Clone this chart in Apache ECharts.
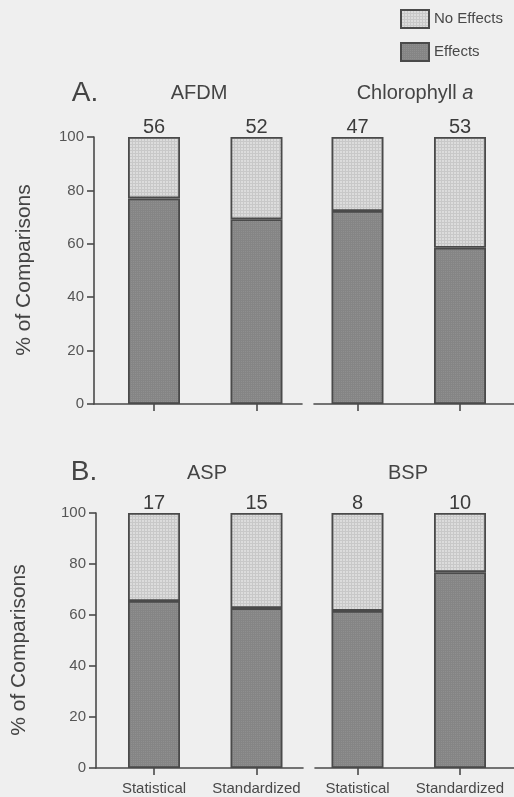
<!DOCTYPE html>
<html>
<head>
<meta charset="utf-8">
<style>
  html, body { margin: 0; padding: 0; background: #efefef; }
  #chart { width: 514px; height: 797px; }
</style>
<script src="https://cdn.jsdelivr.net/npm/echarts@6/dist/echarts.min.js"></script>
</head>
<body>
<div id="chart"></div>
<script>
// Comparison methods (x categories within each sub-panel)
const methods = ['Statistical', 'Standardized'];

// Panel A: biomass measures
const titleAFDM = 'AFDM';
const effectsAFDM = [77.0, 69.2];   // % of comparisons with effects
const countsAFDM = [56, 52];        // number of comparisons
const effectsChl = [72.3, 58.5];
const countsChl = [47, 53];

// Panel B: production measures
const titleASP = 'ASP';
const effectsASP = [65.5, 62.7];
const countsASP = [17, 15];
const titleBSP = 'BSP';
const effectsBSP = [61.6, 76.8];
const countsBSP = [8, 10];

// ---- styling helpers ----
const FONT = '"Liberation Sans", Arial, Helvetica, sans-serif';
const INK = '#4a4a4a';
const TEXT = '#484848';

function makePattern(base, fleck, step) {
  const c = document.createElement('canvas');
  c.width = step; c.height = step;
  const g = c.getContext('2d');
  g.fillStyle = base;
  g.fillRect(0, 0, step, step);
  g.fillStyle = fleck;
  g.fillRect(0, 0, step, 1);
  g.fillRect(0, 0, 1, step);
  return { image: c, repeat: 'repeat' };
}
const fillEffects = makePattern('#8f8f8f', '#858585', 2);
const fillNoEffects = makePattern('#dcdcdc', '#c8c8c8', 3);

// Layout of the four sub-plots (pixels)
const PX_PER_UNIT = 102.5;
const panels = [
  { left: 94, right: 302, top: 137, bottom: 404, center0: 154, yAxis: true, labels: false },
  { left: 314, right: 514, top: 137, bottom: 404, center0: 357.5, yAxis: false, labels: false },
  { left: 96, right: 303, top: 513, bottom: 768, center0: 154, yAxis: true, labels: true },
  { left: 315, right: 514, top: 513, bottom: 768, center0: 357.5, yAxis: false, labels: true }
];
const panelData = [
  { effects: effectsAFDM, counts: countsAFDM },
  { effects: effectsChl, counts: countsChl },
  { effects: effectsASP, counts: countsASP },
  { effects: effectsBSP, counts: countsBSP }
];

const grids = [], xAxes = [], yAxes = [], series = [];
panels.forEach((p, i) => {
  grids.push({ left: p.left, top: p.top, width: p.right - p.left, height: p.bottom - p.top });
  xAxes.push({
    gridIndex: i, type: 'value',
    min: (p.left - p.center0) / PX_PER_UNIT,
    max: (p.right - p.center0) / PX_PER_UNIT,
    splitLine: { show: false },
    axisLine: { show: true, onZero: false, lineStyle: { color: INK, width: 1.6 } },
    axisTick: { show: true, customValues: [0, 1], length: 7, lineStyle: { color: INK, width: 1.6 } },
    axisLabel: {
      show: p.labels, customValues: [0, 1], margin: 13,
      formatter: v => methods[Math.round(v)],
      fontFamily: FONT, fontSize: 15, color: TEXT
    }
  });
  yAxes.push({
    gridIndex: i, type: 'value', min: 0, max: 100, interval: 20,
    show: p.yAxis,
    splitLine: { show: false },
    axisLine: { show: true, onZero: false, lineStyle: { color: INK, width: 1.6 } },
    axisTick: { show: true, inside: false, length: 7, lineStyle: { color: INK, width: 1.6 } },
    axisLabel: { margin: 10, fontFamily: FONT, fontSize: 15, color: '#555' }
  });
  const d = panelData[i];
  // value first, position second, so the stack runs along the y (value) axis
  series.push({
    name: 'Effects', type: 'bar', stack: 's' + i,
    xAxisIndex: i, yAxisIndex: i, barWidth: 52,
    encode: { x: 1, y: 0 },
    itemStyle: { color: fillEffects, borderColor: INK, borderWidth: 1.8 },
    data: d.effects.map((v, k) => [v, k]),
    silent: true
  });
  series.push({
    name: 'No Effects', type: 'bar', stack: 's' + i,
    xAxisIndex: i, yAxisIndex: i, barWidth: 52,
    encode: { x: 1, y: 0 },
    itemStyle: { color: fillNoEffects, borderColor: INK, borderWidth: 1.8 },
    data: d.effects.map((v, k) => [100 - v, k]),
    label: {
      show: true, position: 'top', distance: 0,
      formatter: prm => String(d.counts[prm.dataIndex]),
      fontFamily: FONT, fontSize: 20, color: '#3c3c3c'
    },
    silent: true
  });
});

function txt(x, y, text, size) {
  return {
    type: 'text', x: x, y: y,
    style: {
      text: text, fontFamily: FONT, fontSize: size, fill: '#444',
      align: 'center', verticalAlign: 'middle'
    }
  };
}

const graphics = [
  txt(85, 93, 'A.', 28),
  txt(199, 93, titleAFDM, 20),
  {
    type: 'text', x: 415, y: 93,
    style: {
      text: '{n|Chlorophyll }{i|a}', align: 'center', verticalAlign: 'middle',
      rich: {
        n: { fontFamily: FONT, fontSize: 20, fill: '#444' },
        i: { fontFamily: FONT, fontSize: 20, fontStyle: 'italic', fill: '#444' }
      }
    }
  },
  txt(84, 472, 'B.', 28),
  txt(207, 473, titleASP, 20),
  txt(408, 473, titleBSP, 20),
  Object.assign(txt(24, 270, '% of Comparisons', 21), { rotation: Math.PI / 2 }),
  Object.assign(txt(19, 650, '% of Comparisons', 21), { rotation: Math.PI / 2 })
];

const chart = echarts.init(document.getElementById('chart'), null, { renderer: 'canvas' });
chart.setOption({
  backgroundColor: '#efefef',
  animation: false,
  legend: {
    data: ['No Effects', 'Effects'],
    orient: 'vertical', left: 395, top: 4,
    icon: 'rect',
    itemWidth: 28, itemHeight: 18, itemGap: 13,
    textStyle: { fontFamily: FONT, fontSize: 15, color: TEXT },
    selectedMode: false
  },
  grid: grids,
  xAxis: xAxes,
  yAxis: yAxes,
  series: series,
  graphic: graphics
});
</script>
</body>
</html>
